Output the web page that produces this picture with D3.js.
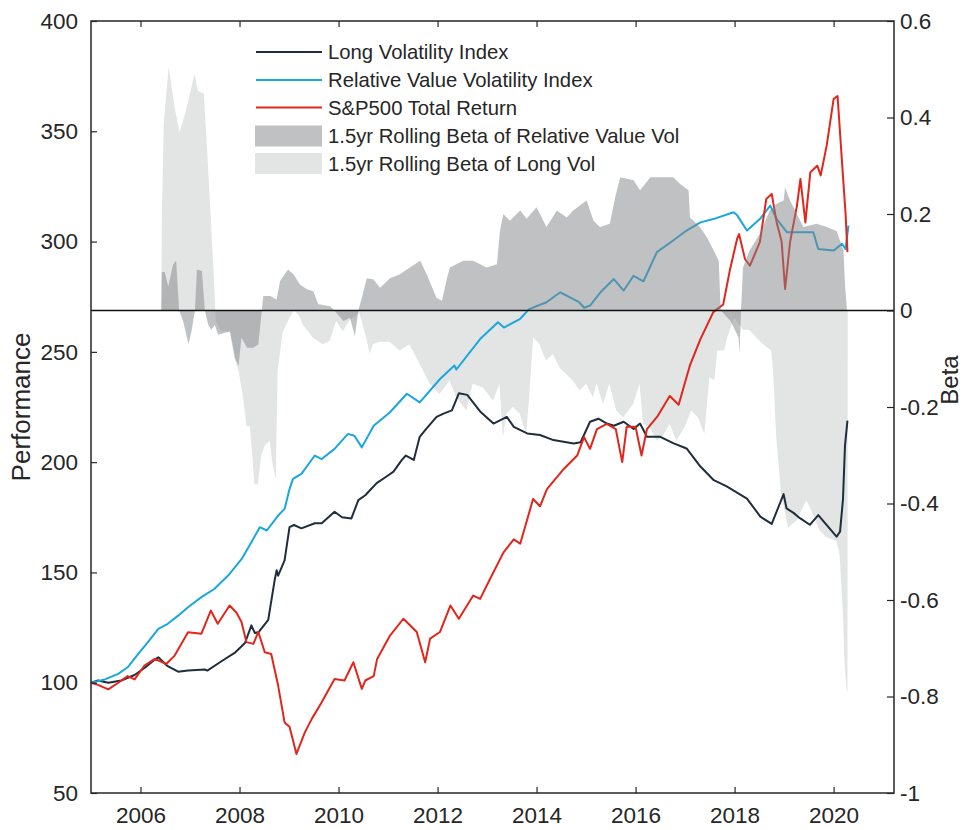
<!DOCTYPE html>
<html>
<head>
<meta charset="utf-8">
<script src="https://cdn.jsdelivr.net/npm/d3@7"></script>
<style>
  body { margin: 0; background: #fff; }
  text { font-family: "Liberation Sans", Arial, sans-serif; fill: #262626; }
</style>
</head>
<body>
<div id="chart"></div>
<script>
// performance series, [year, index level]
var longVol = [[2005.0,100],[2005.14,101],[2005.35,100],[2005.61,101],[2005.88,103.5],[2006.1,107],[2006.29,110.5],[2006.36,111.5],[2006.55,107.5],[2006.76,105],[2006.96,105.5],[2007.3,106],[2007.35,105.5],[2007.62,109.5],[2007.9,113.5],[2008.11,118],[2008.24,126],[2008.31,122.5],[2008.39,123],[2008.58,128.5],[2008.71,146.5],[2008.75,151],[2008.78,148.5],[2008.91,155.5],[2009.01,170.5],[2009.1,171.5],[2009.25,170],[2009.52,172.3],[2009.66,172.3],[2009.92,177.5],[2010.07,175],[2010.26,174.5],[2010.4,182.8],[2010.54,185],[2010.77,190.5],[2010.97,193.5],[2011.11,195.7],[2011.28,201],[2011.36,203],[2011.52,201],[2011.64,211.5],[2011.75,214.5],[2011.98,220.5],[2012.12,222],[2012.29,223.5],[2012.43,231.2],[2012.6,230.5],[2012.86,223],[2013.13,217.5],[2013.4,220.5],[2013.54,216],[2013.81,213],[2014.07,212.3],[2014.34,210],[2014.75,208.5],[2014.89,209],[2015.08,218.3],[2015.25,219.7],[2015.42,217.5],[2015.56,216.5],[2015.76,218.3],[2015.96,215],[2016.09,217.5],[2016.23,211.5],[2016.5,211.5],[2016.77,208.5],[2017.03,206.2],[2017.31,198],[2017.57,192],[2017.84,189],[2018.25,183.5],[2018.52,175.3],[2018.75,172],[2018.99,185.5],[2019.05,179],[2019.19,177],[2019.32,174.6],[2019.52,171.6],[2019.69,176],[2020.06,166.2],[2020.13,168.5],[2020.19,183.3],[2020.23,207.5],[2020.28,218.8]];

var relValue = [[2005.0,100],[2005.28,101.5],[2005.55,104],[2005.74,107],[2005.95,113],[2006.15,118.4],[2006.36,124.4],[2006.55,126.7],[2006.76,130.4],[2006.96,134.2],[2007.23,138.8],[2007.49,142.5],[2007.77,148.6],[2008.04,156],[2008.24,163.7],[2008.41,170.5],[2008.55,169],[2008.78,175.8],[2008.91,178.8],[2009.01,187.8],[2009.08,192.4],[2009.25,194.7],[2009.52,203],[2009.66,201.4],[2009.92,206],[2010.19,212.8],[2010.32,212],[2010.47,206.7],[2010.71,216.5],[2011.04,222.6],[2011.38,231],[2011.64,227.1],[2012.05,237.7],[2012.34,243.8],[2012.38,242],[2012.86,255.8],[2013.22,263.4],[2013.34,261],[2013.67,265],[2013.85,269.4],[2014.2,272.5],[2014.48,277],[2014.86,272.5],[2014.96,270],[2015.08,271],[2015.29,277],[2015.56,283],[2015.76,277.8],[2015.96,284.5],[2016.16,282],[2016.43,295.2],[2016.71,299.7],[2017.03,305],[2017.31,308.7],[2017.57,310.2],[2017.98,313.3],[2018.05,312],[2018.25,305],[2018.51,310.2],[2018.72,316.3],[2018.85,310.2],[2019.06,304.2],[2019.32,304.2],[2019.59,304.2],[2019.69,296.6],[2020.0,295.9],[2020.17,299],[2020.24,296.6],[2020.3,307.2]];

var sp500 = [[2005.0,100],[2005.14,99],[2005.35,97],[2005.55,100],[2005.74,103],[2005.88,101.5],[2006.08,107.8],[2006.29,110.8],[2006.52,108.5],[2006.69,112.3],[2006.96,122.9],[2007.23,122.2],[2007.42,132.7],[2007.56,126.7],[2007.8,135],[2007.94,131.7],[2008.04,127.5],[2008.14,118.4],[2008.28,117.6],[2008.38,123],[2008.51,113.8],[2008.64,113],[2008.78,98.7],[2008.91,82],[2009.01,80],[2009.15,67.7],[2009.32,77.5],[2009.46,83.6],[2009.66,91.1],[2009.92,101.7],[2010.12,101],[2010.3,109.3],[2010.47,97.2],[2010.54,101],[2010.71,103],[2010.78,110.8],[2011.04,121.4],[2011.31,129],[2011.58,123],[2011.75,109.3],[2011.85,120],[2012.05,123],[2012.26,135],[2012.43,129],[2012.72,139.5],[2012.86,138],[2013.06,147],[2013.33,159],[2013.54,165],[2013.67,163],[2013.93,183.3],[2014.07,180],[2014.21,187.8],[2014.55,196.9],[2014.82,203],[2014.96,211.3],[2015.08,206],[2015.22,215],[2015.42,217.3],[2015.6,215],[2015.73,200],[2015.82,216],[2016.0,216],[2016.12,203],[2016.23,215],[2016.45,221],[2016.69,230],[2016.87,226],[2017.1,244],[2017.31,255.8],[2017.57,268],[2017.77,271.5],[2017.91,287.6],[2018.05,301.2],[2018.09,303.4],[2018.21,292.1],[2018.31,289.1],[2018.51,299.7],[2018.64,319.3],[2018.75,321.6],[2018.85,308.7],[2018.95,300],[2019.02,278.5],[2019.12,299.7],[2019.26,316.3],[2019.33,328.4],[2019.43,308.7],[2019.53,331.4],[2019.67,334.4],[2019.74,330],[2019.86,343.5],[2020.0,364.6],[2020.08,366],[2020.17,336],[2020.24,313.3],[2020.28,295.2]];

// rolling betas, [year, beta]
var betaRelValue = [[2006.42,0],[2006.43,0.08],[2006.49,0.08],[2006.56,0.05],[2006.66,0.096],[2006.72,0.103],[2006.78,0],[2006.86,-0.022],[2006.97,-0.07],[2007.03,-0.043],[2007.1,0],[2007.14,0.085],[2007.24,0.082],[2007.3,0],[2007.37,-0.03],[2007.43,-0.04],[2007.5,-0.03],[2007.57,-0.05],[2007.81,-0.043],[2007.91,-0.098],[2007.98,-0.115],[2008.04,-0.056],[2008.15,-0.077],[2008.28,-0.077],[2008.38,-0.07],[2008.45,0],[2008.48,0.03],[2008.62,0.03],[2008.75,0.023],[2008.82,0.061],[2008.98,0.085],[2009.09,0.075],[2009.22,0.054],[2009.36,0.044],[2009.49,0.04],[2009.59,0.013],[2009.83,0.009],[2009.96,-0.005],[2010.1,-0.022],[2010.23,-0.015],[2010.33,-0.053],[2010.4,0],[2010.47,0.026],[2010.57,0.067],[2010.7,0.065],[2010.84,0.047],[2011.04,0.067],[2011.24,0.075],[2011.44,0.089],[2011.65,0.103],[2011.78,0.075],[2011.98,0.026],[2012.09,0.02],[2012.19,0.067],[2012.25,0.089],[2012.52,0.103],[2012.72,0.103],[2012.99,0.089],[2013.2,0.096],[2013.26,0.165],[2013.33,0.2],[2013.46,0.186],[2013.67,0.207],[2013.8,0.19],[2014.0,0.214],[2014.2,0.173],[2014.41,0.207],[2014.61,0.193],[2014.74,0.207],[2015.01,0.228],[2015.15,0.186],[2015.28,0.173],[2015.48,0.18],[2015.59,0.235],[2015.69,0.276],[2015.96,0.27],[2016.09,0.249],[2016.3,0.276],[2016.5,0.276],[2016.76,0.276],[2016.9,0.262],[2017.07,0.249],[2017.1,0.193],[2017.3,0.173],[2017.44,0.152],[2017.58,0.124],[2017.68,0.103],[2017.72,0],[2017.92,-0.022],[2018.08,-0.056],[2018.1,-0.09],[2018.13,0],[2018.17,0.089],[2018.3,0.124],[2018.51,0.159],[2018.71,0.207],[2018.85,0.221],[2018.99,0.228],[2019.02,0.255],[2019.12,0.228],[2019.39,0.173],[2019.66,0.18],[2019.86,0.173],[2020.06,0.165],[2020.2,0.124],[2020.23,0.055],[2020.27,0]];

var betaLongVol = [[2006.42,0],[2006.43,0.19],[2006.47,0.39],[2006.57,0.505],[2006.69,0.42],[2006.79,0.37],[2006.92,0.415],[2007.09,0.49],[2007.16,0.455],[2007.28,0.45],[2007.35,0.325],[2007.42,0.19],[2007.49,0.05],[2007.52,-0.02],[2007.6,-0.04],[2007.8,-0.045],[2007.9,-0.1],[2007.98,-0.125],[2008.07,-0.18],[2008.14,-0.24],[2008.21,-0.24],[2008.28,-0.33],[2008.3,-0.36],[2008.37,-0.36],[2008.44,-0.3],[2008.51,-0.28],[2008.61,-0.27],[2008.67,-0.32],[2008.73,-0.35],[2008.77,-0.125],[2008.87,-0.045],[2009.01,-0.015],[2009.1,0],[2009.2,-0.01],[2009.28,-0.03],[2009.48,-0.056],[2009.68,-0.07],[2009.82,-0.063],[2009.95,-0.022],[2010.09,-0.043],[2010.22,-0.02],[2010.42,-0.005],[2010.56,-0.056],[2010.63,-0.09],[2010.69,-0.07],[2010.83,-0.065],[2011.03,-0.065],[2011.23,-0.083],[2011.43,-0.07],[2011.64,-0.111],[2011.84,-0.152],[2012.04,-0.173],[2012.24,-0.145],[2012.38,-0.18],[2012.58,-0.207],[2012.71,-0.152],[2012.92,-0.16],[2013.12,-0.187],[2013.25,-0.152],[2013.32,-0.263],[2013.39,-0.214],[2013.52,-0.2],[2013.66,-0.214],[2013.79,-0.256],[2013.85,-0.18],[2013.93,-0.056],[2014.06,-0.07],[2014.19,-0.104],[2014.33,-0.09],[2014.46,-0.118],[2014.73,-0.145],[2014.87,-0.166],[2015.0,-0.152],[2015.14,-0.18],[2015.21,-0.15],[2015.34,-0.194],[2015.47,-0.152],[2015.61,-0.207],[2015.75,-0.221],[2015.95,-0.194],[2016.08,-0.152],[2016.15,-0.235],[2016.29,-0.242],[2016.42,-0.27],[2016.55,-0.26],[2016.69,-0.235],[2016.82,-0.27],[2016.99,-0.242],[2017.12,-0.207],[2017.26,-0.221],[2017.39,-0.256],[2017.49,-0.138],[2017.59,-0.145],[2017.65,-0.083],[2017.79,-0.083],[2017.85,-0.056],[2017.99,-0.015],[2018.1,-0.03],[2018.17,-0.04],[2018.29,-0.04],[2018.44,-0.056],[2018.57,-0.07],[2018.74,-0.083],[2018.78,-0.13],[2018.84,-0.26],[2018.94,-0.38],[2019.08,-0.45],[2019.25,-0.435],[2019.45,-0.394],[2019.55,-0.415],[2019.72,-0.456],[2019.85,-0.47],[2020.05,-0.477],[2020.12,-0.505],[2020.19,-0.63],[2020.22,-0.73],[2020.26,-0.785],[2020.28,-0.79],[2020.285,0]];

var yearTicks = [2006, 2008, 2010, 2012, 2014, 2016, 2018, 2020];
var perfTicks = [50, 100, 150, 200, 250, 300, 350, 400];
var betaTicks = [-1, -0.8, -0.6, -0.4, -0.2, 0, 0.2, 0.4, 0.6];
var legendLabels = ["Long Volatility Index", "Relative Value Volatility Index", "S&P500 Total Return",
                    "1.5yr Rolling Beta of Relative Value Vol", "1.5yr Rolling Beta of Long Vol"];

var W = 976, H = 830;
var margin = {left: 91, right: 894, top: 21, bottom: 793};

var svg = d3.select("#chart").append("svg")
  .attr("width", W).attr("height", H);

var x = d3.scaleLinear().domain([2005, 2021.22]).range([margin.left, margin.right]);
var yL = d3.scaleLinear().domain([50, 400]).range([margin.bottom, margin.top]);
var yR = d3.scaleLinear().domain([-1, 0.6]).range([margin.bottom, margin.top]);

svg.append("clipPath").attr("id", "clip")
  .append("rect")
  .attr("x", margin.left).attr("y", margin.top)
  .attr("width", margin.right - margin.left).attr("height", margin.bottom - margin.top);

var plot = svg.append("g").attr("clip-path", "url(#clip)");

var betaArea = d3.area()
  .x(function(d){ return x(d[0]); })
  .y0(yR(0))
  .y1(function(d){ return yR(d[1]); });

var perfLine = d3.line()
  .x(function(d){ return x(d[0]); })
  .y(function(d){ return yL(d[1]); });

// light beta sits under the lines
plot.append("path").datum(betaLongVol)
  .attr("d", betaArea).attr("fill", "#e3e4e4");

var lines = [
  {data: longVol, color: "#1f2d3d"},
  {data: relValue, color: "#1aa6df"},
  {data: sp500, color: "#e1261c"}
];
lines.forEach(function(s){
  plot.append("path").datum(s.data)
    .attr("d", perfLine)
    .attr("fill", "none")
    .attr("stroke", s.color)
    .attr("stroke-width", 2)
    .attr("stroke-linejoin", "round");
});

// dark beta is see-through, on top of the lines
plot.append("path").datum(betaRelValue)
  .attr("d", betaArea).attr("fill", "#818385").attr("fill-opacity", 0.5);

// zero beta line
svg.append("line")
  .attr("x1", margin.left).attr("x2", margin.right)
  .attr("y1", yR(0)).attr("y2", yR(0))
  .attr("stroke", "#111").attr("stroke-width", 1.5);

// axes
function styleAxis(g) {
  g.select(".domain").remove();
  g.selectAll(".tick line").attr("stroke", "#262626").attr("stroke-width", 1.2);
  g.selectAll(".tick text").style("font-size", "22.5px").attr("fill", "#262626");
}

svg.append("g").attr("transform", "translate(" + margin.left + ",0)")
  .call(d3.axisLeft(yL).tickValues(perfTicks).tickSizeInner(-6).tickSizeOuter(0).tickPadding(13))
  .call(styleAxis);

svg.append("g").attr("transform", "translate(" + margin.right + ",0)")
  .call(d3.axisRight(yR).tickValues(betaTicks).tickSizeInner(-7).tickSizeOuter(0).tickPadding(6)
        .tickFormat(function(d){ return String(+d.toFixed(1)); }))
  .call(styleAxis);

svg.append("g").attr("transform", "translate(0," + margin.bottom + ")")
  .call(d3.axisBottom(x).tickValues(yearTicks).tickSizeInner(-6).tickSizeOuter(0).tickPadding(14).tickFormat(d3.format("d")))
  .call(styleAxis);

svg.append("g").attr("transform", "translate(0," + margin.top + ")")
  .call(d3.axisTop(x).tickValues(yearTicks).tickSizeInner(-6).tickSizeOuter(0).tickFormat(""))
  .call(styleAxis);

// box
svg.append("rect")
  .attr("x", margin.left).attr("y", margin.top)
  .attr("width", margin.right - margin.left).attr("height", margin.bottom - margin.top)
  .attr("fill", "none").attr("stroke", "#262626").attr("stroke-width", 1.5);

// axis titles
svg.append("text")
  .attr("transform", "translate(21," + ((margin.top + margin.bottom) / 2) + ") rotate(-90)")
  .attr("text-anchor", "middle").attr("dy", "0.35em")
  .style("font-size", "26px")
  .text("Performance");

svg.append("text")
  .attr("transform", "translate(950,380) rotate(-90)")
  .attr("text-anchor", "middle").attr("dy", "0.35em")
  .style("font-size", "24px")
  .text("Beta");

// legend
var legend = svg.append("g");
var rowY = [52, 80, 107.5, 136, 163.5];
legendLabels.forEach(function(lab, i){
  var y = rowY[i];
  if (i < 3) {
    legend.append("line")
      .attr("x1", 256).attr("x2", 322).attr("y1", y).attr("y2", y)
      .attr("stroke", lines[i].color).attr("stroke-width", 2.2);
  } else {
    legend.append("rect")
      .attr("x", 255).attr("y", y - 10.5).attr("width", 67).attr("height", 21)
      .attr("fill", i === 3 ? "#c0c1c2" : "#e3e4e4");
  }
  legend.append("text")
    .attr("x", 328).attr("y", y).attr("dy", "0.35em")
    .style("font-size", "20.3px")
    .text(lab);
});
</script>
</body>
</html>
